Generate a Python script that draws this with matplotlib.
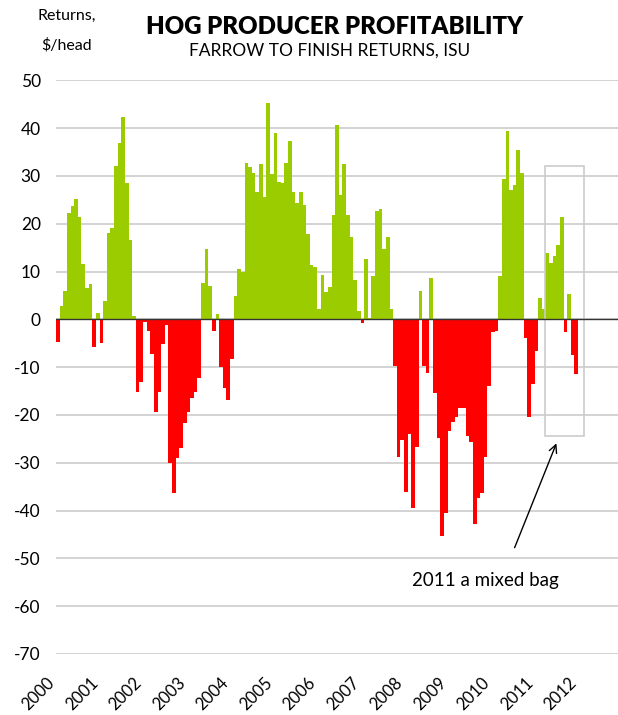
import matplotlib
matplotlib.use("Agg")
import matplotlib.pyplot as plt
import matplotlib.transforms as mtransforms
from matplotlib.patches import Rectangle
import numpy as np

plt.rcParams['font.family'] = ['Lato', 'DejaVu Sans']

# Monthly farrow-to-finish returns ($/head), Jan 2000 - Dec 2011
r2000 = [-4.7, 2.8, 5.9, 22.3, 23.8, 25.2, 21.5, 11.6, 6.6, 7.4, -5.7, 1.3]
r2001 = [-4.9, 3.8, 18.1, 19.2, 32.0, 36.8, 42.4, 28.6, 16.6, 0.7, -15.2, -13.1]
r2002 = [-0.5, -2.4, -7.3, -19.4, -15.2, -5.1, -1.2, -30.1, -36.4, -29.0, -26.9, -21.7]
r2003 = [-19.4, -16.4, -15.2, -12.2, 7.6, 14.8, 7.0, -2.4, 1.1, -9.9, -14.3, -16.9]
r2004 = [-8.2, 4.9, 10.6, 10.0, 32.8, 31.8, 30.7, 26.7, 32.4, 25.5, 45.2, 30.3]
r2005 = [38.9, 28.8, 28.6, 32.8, 37.2, 26.7, 24.4, 26.7, 24.0, 17.9, 11.4, 11.0]
r2006 = [2.2, 9.3, 5.7, 6.8, 21.9, 40.6, 26.1, 32.4, 21.9, 17.3, 8.3, 1.7]
r2007 = [-0.8, 12.7, 0.3, 9.1, 22.7, 23.1, 14.8, 17.3, 2.2, -9.8, -28.8, -25.3]
r2008 = [-36.1, -23.9, -39.4, -26.6, 5.9, -9.7, -11.2, 8.7, -15.4, -24.8, -45.3, -40.5]
r2009 = [-23.4, -21.5, -20.4, -18.5, -18.5, -24.4, -25.7, -42.9, -37.4, -36.4, -28.8, -13.9]
r2010 = [-2.6, -2.4, 9.1, 29.4, 39.3, 27.1, 28.0, 35.5, 30.7, -3.8, -20.4, -13.5]
r2011 = [-6.6, 4.5, 2.2, 13.9, 11.8, 13.3, 15.6, 21.5, -2.6, 5.3, -7.4, -11.4]

years = ["2000", "2001", "2002", "2003", "2004", "2005", "2006",
         "2007", "2008", "2009", "2010", "2011", "2012"]
y_ticks = [50, 40, 30, 20, 10, 0, -10, -20, -30, -40, -50, -60, -70]

returns = np.array(r2000 + r2001 + r2002 + r2003 + r2004 + r2005 + r2006 +
                   r2007 + r2008 + r2009 + r2010 + r2011)
months = np.arange(len(returns))

GREEN = '#9ACC00'
RED = '#FF0000'
GRID = '#cccccc'

fig = plt.figure(figsize=(6.18, 7.15), dpi=100)
ax = fig.add_axes([56/618, 61/715, 562/618, 573.7/715])

colors = [GREEN if v >= 0 else RED for v in returns]
ax.bar(months, returns, width=1.0, color=colors, linewidth=0, zorder=2)
ax.axhline(0, color='#333333', linewidth=1.0, zorder=4)

ax.set_ylim(-70, 50)
ax.set_xlim(-0.5, 154.5)
ax.set_yticks(y_ticks)
ax.set_yticklabels([str(t) for t in y_ticks], fontsize=12.5)
ax.tick_params(axis='y', length=0, pad=11)
ax.grid(axis='y', color=GRID, linewidth=1.2, zorder=0)
ax.set_axisbelow(True)
ax.set_xticks([])
for s in ax.spines.values():
    s.set_visible(False)

# year labels, rotated
trans = mtransforms.offset_copy(
    mtransforms.blended_transform_factory(ax.transData, ax.transAxes),
    fig=fig, x=-11.5, y=0, units='dots')
for k, yr in enumerate(years):
    ax.text(12 * k, -0.036, yr, transform=trans, rotation=45,
            rotation_mode='anchor', ha='right', va='top', fontsize=12,
            clip_on=False)

# highlight box around 2011 and annotation
ax.add_patch(Rectangle((134.3, -24.4), 10.7, 56.5, fill=False,
                       edgecolor=GRID, linewidth=1.2, zorder=3))
ax.annotate("", xy=(137.8, -25.4), xytext=(125.7, -48.3),
            arrowprops=dict(arrowstyle='->', color='black', lw=1.0,
                            mutation_scale=14))
ax.text(117.8, -54.7, "2011 a mixed bag", ha='center', va='center',
        fontsize=13.5)

# titles
fig.text(335/618, 1 - 27/715, "HOG PRODUCER PROFITABILITY", ha='center',
         va='center', fontsize=17.3, fontweight='heavy')
fig.text(330/618, 1 - 51/715, "FARROW TO FINISH RETURNS, ISU", ha='center',
         va='center', fontsize=12.5)
fig.text(67/618, 1 - 16/715, "Returns,", ha='center', va='center', fontsize=11.5)
fig.text(67/618, 1 - 45/715, "$/head", ha='center', va='center', fontsize=11.5)

fig.savefig("out.png", dpi=100)
